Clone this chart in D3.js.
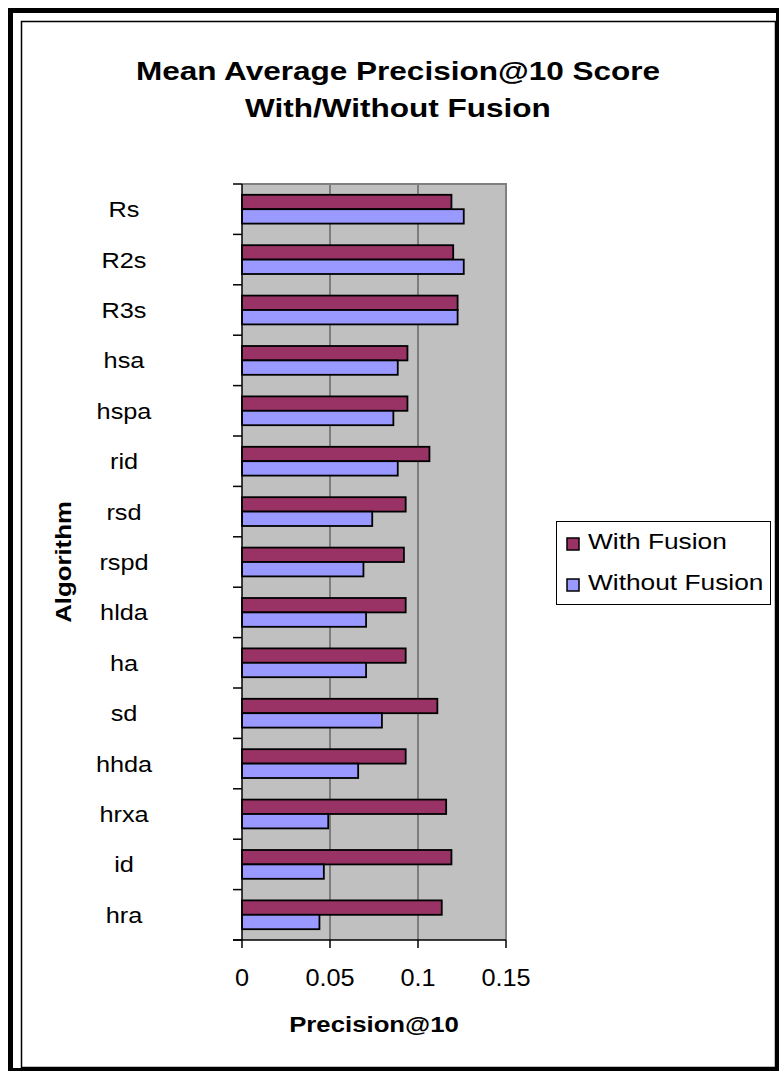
<!DOCTYPE html>
<html>
<head>
<meta charset="utf-8">
<script src="https://cdn.jsdelivr.net/npm/d3@7"></script>
<style>
  html, body { margin: 0; padding: 0; background: #fff; }
  svg { display: block; font-family: "Liberation Sans", Arial, sans-serif; }
</style>
</head>
<body>
<svg id="chart" width="782" height="1077"></svg>
<script>
// Algorithms, top to bottom
const algorithms = ["Rs", "R2s", "R3s", "hsa", "hspa", "rid", "rsd", "rspd", "hlda", "ha", "sd", "hhda", "hrxa", "id", "hra"];
const seriesNames = ["With Fusion", "Without Fusion"];
const withFusion    = [0.119, 0.120, 0.1225, 0.094, 0.094, 0.1065, 0.093, 0.092, 0.093, 0.093, 0.111, 0.093, 0.116, 0.119, 0.1135];
const withoutFusion = [0.126, 0.126, 0.1225, 0.0885, 0.086, 0.0885, 0.074, 0.069, 0.0705, 0.0705, 0.0795, 0.066, 0.049, 0.0465, 0.044];
const xTicks = [0, 0.05, 0.1, 0.15];
const xTickLabels = ["0", "0.05", "0.1", "0.15"];
const colors = ["#993366", "#9999FF"];

const svg = d3.select("#chart");

// Text with the chart's slightly widened lettering
function wideText(sel, x, y, txt, size, weight, anchor, stretch) {
  return sel.append("text")
    .attr("transform", `translate(${x},${y}) scale(${stretch || 1.13},1)`)
    .attr("text-anchor", anchor || "middle")
    .attr("font-size", size)
    .attr("font-weight", weight || "normal")
    .attr("fill", "#000")
    .text(txt);
}

// Frame
const frame = svg.append("g");
frame.append("rect").attr("x", 21.5).attr("y", 21.5).attr("width", 754).attr("height", 1046)
  .attr("fill", "none").attr("stroke", "#000").attr("stroke-width", 1.5);
frame.append("rect").attr("x", 8).attr("y", 8).attr("width", 5).attr("height", 1063).attr("fill", "#000");
frame.append("rect").attr("x", 8).attr("y", 8).attr("width", 771).attr("height", 5).attr("fill", "#000");
frame.append("rect").attr("x", 776).attr("y", 8).attr("width", 3).attr("height", 1063).attr("fill", "#000");
frame.append("rect").attr("x", 8).attr("y", 1068).attr("width", 771).attr("height", 3).attr("fill", "#000");

// Scales
const plot = { left: 242, right: 506, top: 184, bottom: 940 };
const x = d3.scaleLinear().domain([0, 0.15]).range([plot.left, plot.right]);
const y = d3.scaleBand().domain(algorithms).range([plot.top, plot.bottom]).paddingInner(0).paddingOuter(0);
const ySub = d3.scaleBand().domain(seriesNames).range([0, y.bandwidth()]).paddingInner(0).paddingOuter(0.75);

// Plot area
svg.append("rect").attr("x", plot.left).attr("y", plot.top)
  .attr("width", plot.right - plot.left).attr("height", plot.bottom - plot.top)
  .attr("fill", "#C0C0C0");

// Vertical gridlines
svg.append("g").selectAll("line").data(xTicks.slice(1, -1)).join("line")
  .attr("x1", d => x(d)).attr("x2", d => x(d))
  .attr("y1", plot.top).attr("y2", plot.bottom)
  .attr("stroke", "#3a3a3a").attr("stroke-width", 1);

// Plot border (top and right)
svg.append("path")
  .attr("d", `M${plot.left},${plot.top}H${plot.right}V${plot.bottom}`)
  .attr("fill", "none").attr("stroke", "#808080").attr("stroke-width", 2);

// Bars
const rows = algorithms.map((a, i) => ({ name: a, values: [withFusion[i], withoutFusion[i]] }));
const groups = svg.append("g").selectAll("g").data(rows).join("g")
  .attr("transform", d => `translate(0,${y(d.name)})`);
groups.selectAll("rect").data(d => d.values.map((v, j) => ({ s: seriesNames[j], v, j }))).join("rect")
  .attr("x", x(0))
  .attr("y", d => ySub(d.s))
  .attr("width", d => x(d.v) - x(0))
  .attr("height", ySub.bandwidth())
  .attr("fill", d => colors[d.j])
  .attr("stroke", "#000").attr("stroke-width", 1.8);

// Y axis with ticks at category boundaries
const yAxis = svg.append("g");
yAxis.append("line").attr("x1", plot.left).attr("x2", plot.left)
  .attr("y1", plot.top).attr("y2", plot.bottom).attr("stroke", "#000").attr("stroke-width", 1.5);
const boundaries = algorithms.map(a => y(a)).concat([plot.bottom]);
yAxis.selectAll("line.tick").data(boundaries).join("line").attr("class", "tick")
  .attr("x1", plot.left - 9).attr("x2", plot.left)
  .attr("y1", d => d).attr("y2", d => d)
  .attr("stroke", "#000").attr("stroke-width", 1.5);
algorithms.forEach(a => {
  wideText(yAxis, 124, y(a) + y.bandwidth() / 2 + 8, a, 22, "normal", "middle", 1.15);
});

// X axis
const xAxis = svg.append("g");
xAxis.append("line").attr("x1", plot.left - 9).attr("x2", plot.right)
  .attr("y1", plot.bottom).attr("y2", plot.bottom).attr("stroke", "#000").attr("stroke-width", 1.5);
xAxis.selectAll("line.tick").data(xTicks).join("line").attr("class", "tick")
  .attr("x1", d => x(d)).attr("x2", d => x(d))
  .attr("y1", plot.bottom).attr("y2", plot.bottom + 8)
  .attr("stroke", "#000").attr("stroke-width", 1.5);
xTicks.forEach((t, i) => {
  wideText(xAxis, x(t), 986, xTickLabels[i], 23, "normal", "middle", 1.1);
});

// Axis titles
wideText(svg, 374, 1032, "Precision@10", 23, "bold", "middle", 1.12);
svg.append("text")
  .attr("transform", `translate(71,562) rotate(-90) scale(1.2,1)`)
  .attr("text-anchor", "middle").attr("font-size", 21.5).attr("font-weight", "bold")
  .text("Algorithm");

// Title
wideText(svg, 398, 80, "Mean Average Precision@10 Score", 26.5, "bold", "middle", 1.19);
wideText(svg, 398, 117, "With/Without Fusion", 26.5, "bold", "middle", 1.19);

// Legend
const legend = svg.append("g");
legend.append("rect").attr("x", 556.5).attr("y", 521.5).attr("width", 214).attr("height", 83)
  .attr("fill", "#fff").attr("stroke", "#000").attr("stroke-width", 1);
seriesNames.forEach((s, i) => {
  const yy = 549 + i * 41;
  legend.append("rect").attr("x", 567).attr("y", yy - 11).attr("width", 12).attr("height", 12)
    .attr("fill", colors[i]).attr("stroke", "#000").attr("stroke-width", 1.5);
  wideText(legend, 588, yy, s, 22.3, "normal", "start", 1.18);
});
</script>
</body>
</html>
